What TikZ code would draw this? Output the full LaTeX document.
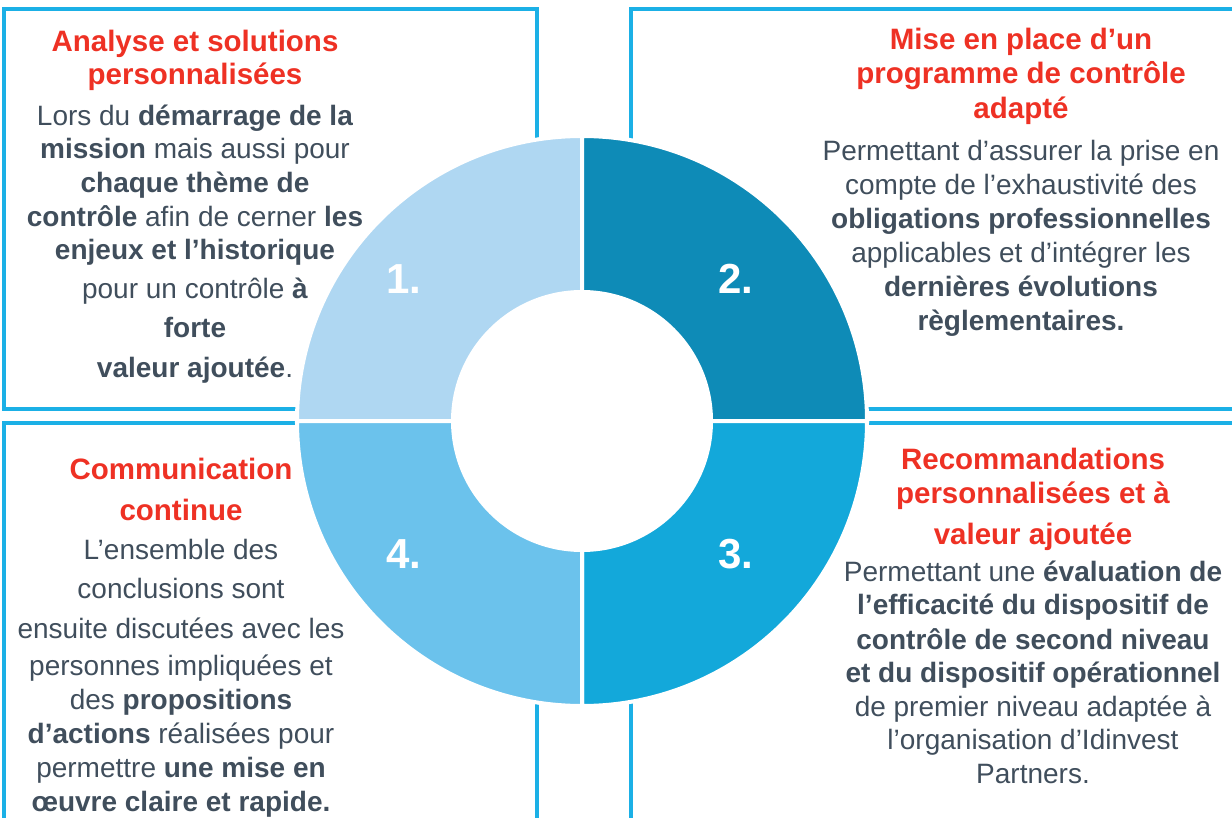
\documentclass[tikz,border=0pt]{standalone}
\usepackage{fontspec}
\setmainfont{Liberation Sans}

\definecolor{frame}{RGB}{27,176,230}
\definecolor{accent}{RGB}{238,49,36}
\definecolor{ink}{RGB}{64,78,92}
\definecolor{q1}{RGB}{175,215,242}
\definecolor{q2}{RGB}{14,139,183}
\definecolor{q3}{RGB}{19,168,218}
\definecolor{q4}{RGB}{107,194,236}

\newcommand{\ttl}[1]{\textcolor{accent}{\fontsize{29.5}{34}\selectfont\bfseries #1}}

\begin{document}
\begin{tikzpicture}[x=1pt,y=-1pt,
  every node/.style={font=\fontsize{28}{34}\selectfont,text=ink,inner sep=0pt},
  framebox/.style={draw=frame,line width=4pt},
  sector/.style={draw=white,line width=4pt},
  num/.style={font=\fontsize{42}{42}\selectfont\bfseries,text=white},
  blurb/.style={align=center,anchor=north}]
\useasboundingbox (0,0) rectangle (1232,818);
\clip (0,0) rectangle (1232,818);
% four frames behind the ring
\draw[framebox] (4,9) rectangle (537,409);
\draw[framebox] (631,9) rectangle (1245,409);
\draw[framebox] (4,423) rectangle (537,835);
\draw[framebox] (631,423) rectangle (1245,835);
% ring
\coordinate (c) at (582,421);
\filldraw[sector,fill=q1] (c) -- ++(180:285) arc[start angle=180,end angle=270,radius=285] -- cycle;
\filldraw[sector,fill=q2] (c) -- ++(270:285) arc[start angle=270,end angle=360,radius=285] -- cycle;
\filldraw[sector,fill=q3] (c) -- ++(0:285) arc[start angle=0,end angle=90,radius=285] -- cycle;
\filldraw[sector,fill=q4] (c) -- ++(90:285) arc[start angle=90,end angle=180,radius=285] -- cycle;
\fill[white] (c) circle[radius=131];
\node[num] (n1) at (404,279) {1.};
\node[num] (n2) at (736,279) {2.};
\node[num] (n3) at (736,554) {3.};
\node[num] (n4) at (404,554) {4.};
% texts
\node[blurb] (t1) at (195,30) {\ttl{Analyse et solutions}\\[-1pt]
  \ttl{personnalisées}\\[7pt]
  Lors du \textbf{démarrage de la}\\[-1pt]
  \textbf{mission} mais aussi pour\\
  \textbf{chaque thème de}\\
  \textbf{contrôle} afin de cerner \textbf{les}\\[-1pt]
  \textbf{enjeux et l’historique}\\[5pt]
  pour un contrôle \textbf{à}\\[5pt]
  \textbf{forte}\\[6pt]
  \textbf{valeur ajoutée}.};
\node[blurb] (t2) at (1021,28) {\ttl{Mise en place d’un}\\
  \ttl{programme de contrôle}\\[1pt]
  \ttl{adapté}\\[8pt]
  Permettant d’assurer la prise en\\
  compte de l’exhaustivité des\\
  \textbf{obligations professionnelles}\\
  applicables et d’intégrer les\\
  \textbf{dernières évolutions}\\
  \textbf{règlementaires.}};
\node[blurb] (t3) at (1033,447.5) {\ttl{Recommandations}\\
  \ttl{personnalisées et à}\\[7pt]
  \ttl{valeur ajoutée}\\[3pt]
  Permettant une \textbf{évaluation de}\\[-1pt]
  \textbf{l’efficacité du dispositif de}\\[1pt]
  \textbf{contrôle de second niveau}\\[-1pt]
  \textbf{et du dispositif opérationnel}\\
  de premier niveau adaptée à\\[-1pt]
  l’organisation d’Idinvest\\
  Partners.};
\node[blurb] (t4) at (181,457.5) {\ttl{Communication}\\[7pt]
  \ttl{continue}\\[5pt]
  L’ensemble des\\[5pt]
  conclusions sont\\[6pt]
  ensuite discutées avec les\\[3pt]
  personnes impliquées et\\
  des \textbf{propositions}\\
  \textbf{d’actions} réalisées pour\\
  permettre \textbf{une mise en}\\
  \textbf{œuvre claire et rapide.}};
\end{tikzpicture}
\end{document}
